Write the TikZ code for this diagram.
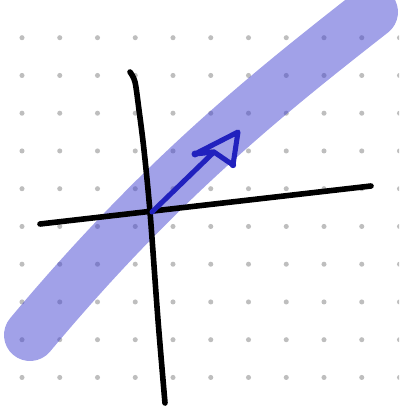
\documentclass[tikz,border=0pt]{standalone}
\definecolor{dotgray}{RGB}{190,190,190}
\definecolor{bandblue}{RGB}{67,67,209}
\definecolor{penblue}{RGB}{33,33,190}
\begin{document}
\begin{tikzpicture}[x=0.75pt,y=-0.75pt,
  griddot/.style={fill=dotgray},
  band/.style={draw=bandblue,opacity=0.5,line width=39pt,line cap=round,line join=round},
  axisline/.style={draw=black,line width=4.2pt,line cap=round},
  arrowpen/.style={draw=penblue,line width=3.8pt,line cap=round,line join=round}]
\useasboundingbox (0,0) rectangle (399,406);
\clip (0,0) rectangle (399,406);
% dot grid
\foreach \i in {0,...,10}{
  \foreach \j in {0,...,9}{
    \fill[griddot] ({22+37.75*\i},{37.7+37.75*\j}) circle (1.9pt);
  }
}
% highlighter band
\coordinate (bs) at (30,335);
\coordinate (be) at (372,12);
\draw[band] (bs) .. controls (158,182) and (262,98) .. (be);
% axes
\draw[axisline] plot[smooth] coordinates {(130,72) (135,82) (139,110) (144,150) (150,212) (158,320) (165,403)};
\coordinate (hl) at (40,224);
\coordinate (hr) at (371,186);
\draw[axisline] (hl) -- (hr);
% hand-drawn arrow
\coordinate (o) at (152,212);
\coordinate (d) at (214,152);
\coordinate (a) at (195,154);
\coordinate (b) at (238,132);
\coordinate (c) at (233,165);
\draw[arrowpen] (o) -- (d);
\draw[arrowpen] (c) -- (d) -- (a) -- (b) -- (c);
\fill[penblue] (a) circle (2.6pt) (c) circle (2.4pt);
\end{tikzpicture}
\end{document}
